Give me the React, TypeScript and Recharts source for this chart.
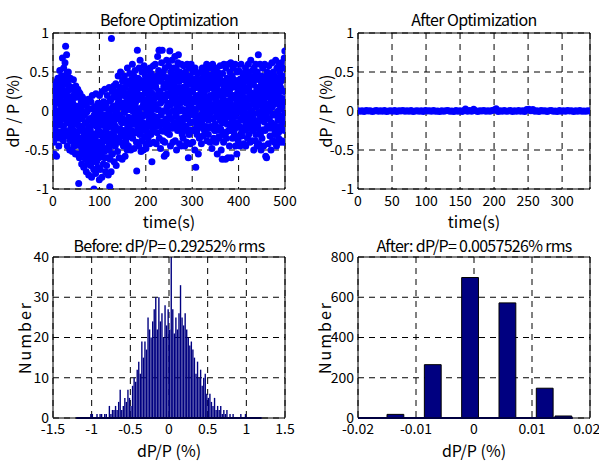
import { ScatterChart, Scatter, ComposedChart, Bar, XAxis, YAxis, CartesianGrid, ReferenceLine } from "recharts";

const font = "'Noto Sans CJK JP', 'DejaVu Sans Condensed', sans-serif";
const dotColor = "#0000ff";
const barColor = "#000080";

const timeTicksBefore = [0, 100, 200, 300, 400, 500];
const timeTicksAfter = [0, 50, 100, 150, 200, 250, 300];
const dpTicks = [-1, -0.5, 0, 0.5, 1];
const dpHistTicks = [-1.5, -1, -0.5, 0, 0.5, 1, 1.5];
const countTicksBefore = [0, 10, 20, 30, 40];
const dpHistTicksAfter = [-0.02, -0.01, 0, 0.01, 0.02];
const countTicksAfter = [0, 200, 400, 600, 800];

// time (s), dP/P (%) — outer spread of the samples
const beforeSeries: [number, number][] = [
  [0.3,-0.12],[0.8,0.25],[1.5,-0.4],[2.1,0.05],[2.9,-0.55],[3.4,0.31],[4.2,-0.22],[4.8,0.12],[5.5,-0.3],[6.1,-0.05],[6.9,0.2],[7.6,-0.58],[8.3,0.38],[9.2,-0.15],
  [10.4,0.42],[11.0,-0.28],[11.7,0.1],[12.5,-0.45],[13.1,0.3],[13.8,-0.08],[14.6,0.52],[15.2,-0.35],[16.0,0.18],[16.7,-0.18],[17.5,0.0],[18.2,0.45],[18.9,-0.3],[19.6,0.25],
  [20.3,0.68],[20.9,-0.1],[21.6,0.35],[22.4,-0.38],[23.0,0.55],[23.7,0.12],[24.5,-0.25],[25.1,0.42],[25.9,0.62],[26.6,-0.02],[27.2,0.83],[27.9,0.22],[28.6,-0.32],[29.3,0.72],[29.7,0.48],
  [30.2,0.15],[30.9,-0.45],[31.6,0.38],[32.3,-0.15],[33.0,0.5],[33.8,0.05],[34.5,-0.3],[35.2,0.28],[36.0,-0.5],[36.7,-0.05],[37.4,0.42],[38.1,-0.22],[38.9,0.18],[39.6,-0.38],
  [40.3,0.3],[41.0,-0.2],[41.8,-0.52],[42.5,0.1],[43.2,-0.35],[44.0,0.4],[44.7,-0.08],[45.5,-0.45],[46.2,0.22],[46.9,-0.28],[47.6,0.02],[48.4,-0.55],[49.1,0.32],[49.8,-0.15],
  [50.4,-0.3],[51.1,0.18],[51.8,-0.55],[52.6,-0.1],[53.3,0.28],[54.0,-0.42],[54.8,-0.18],[55.4,-0.93],[56.1,0.05],[56.9,-0.6],[57.6,-0.25],[58.3,0.22],[59.0,-0.38],[59.7,-0.02],
  [60.3,-0.45],[61.0,0.12],[61.8,-0.68],[62.5,-0.2],[63.2,0.18],[64.0,-0.35],[64.7,-0.55],[65.4,-0.05],[66.2,-0.72],[66.9,-0.28],[67.7,0.08],[68.4,-0.48],[69.1,-0.15],[69.8,-0.62],
  [70.4,-0.4],[71.1,0.1],[71.8,-0.78],[72.6,-0.25],[73.3,-0.55],[74.0,0.0],[74.8,-0.68],[75.5,-0.35],[76.2,0.15],[77.0,-0.82],[77.7,-0.12],[78.4,-0.6],[79.1,-0.3],[79.8,-0.5],
  [80.3,-0.2],[81.0,-0.7],[81.7,0.12],[82.5,-0.45],[83.2,-0.85],[84.0,-0.3],[84.7,0.2],[85.4,-0.62],[86.2,-0.08],[86.9,-0.5],[87.7,-0.75],[88.3,-1.0],[89.0,-0.35],[89.7,0.05],
  [90.4,-0.55],[91.1,-0.15],[91.8,-0.8],[92.6,0.22],[93.3,-0.4],[94.0,-0.65],[94.8,-0.02],[95.5,-0.28],[96.2,-0.72],[97.0,0.1],[97.7,-0.48],[98.4,-0.2],[99.1,-0.6],[99.8,-0.88],
  [100.3,0.2],[101.0,-0.42],[101.7,-0.75],[102.5,-0.1],[103.2,-0.58],[104.0,0.05],[104.7,-0.3],[105.4,-0.85],[106.2,0.25],[106.9,-0.5],[107.7,-0.18],[108.4,-0.68],[109.1,0.12],[109.8,-0.35],
  [110.4,-0.05],[111.1,-0.6],[111.8,0.28],[112.6,-0.38],[113.3,-0.78],[114.0,0.1],[114.8,-0.25],[115.5,-0.7],[116.2,-0.12],[117.0,0.2],[117.7,-0.5],[118.4,-0.3],[119.1,-0.82],[119.8,0.02],
  [120.3,-0.45],[121.0,0.3],[121.7,-0.2],[122.3,-0.97],[123.0,-0.62],[123.8,0.15],[124.5,-0.35],[125.2,-0.78],[126.0,0.93],[126.7,-0.08],[127.4,0.25],[128.1,-0.55],[128.9,-0.15],[129.6,0.05],
  [130.3,-0.3],[131.0,0.32],[131.7,-0.65],[132.5,-0.1],[133.2,0.18],[134.0,-0.45],[134.7,-0.2],[135.4,0.35],[136.2,-0.7],[136.9,0.0],[137.7,-0.38],[138.4,0.22],[139.1,-0.52],[139.8,0.1],
  [140.4,0.45],[141.1,-0.25],[141.8,0.15],[142.6,-0.6],[143.3,0.3],[144.0,-0.05],[144.8,-0.4],[145.5,0.5],[146.2,0.05],[147.0,-0.3],[147.7,0.25],[148.4,-0.15],[149.1,-0.62],[149.8,0.38],
  [150.3,-0.1],[151.0,0.4],[151.7,-0.45],[152.5,0.2],[153.2,-0.25],[154.0,0.45],[154.7,0.0],[155.4,-0.58],[156.2,0.3],[156.9,-0.35],[157.7,0.1],[158.4,-0.15],[159.1,0.35],[159.8,-0.5],
  [160.4,0.55],[161.1,-0.2],[161.8,0.18],[162.6,-0.45],[163.3,0.38],[164.0,0.02],[164.8,-0.3],[165.5,0.48],[166.2,-0.1],[167.0,0.25],[167.7,-0.5],[168.4,0.1],[169.1,0.4],[169.8,-0.25],
  [170.3,0.05],[171.0,0.6],[171.7,-0.35],[172.5,0.3],[173.2,-0.12],[174.0,0.45],[174.7,-0.48],[175.4,0.18],[176.2,-0.05],[176.9,0.52],[177.7,-0.28],[178.4,0.12],[179.1,0.35],[179.8,-0.4],
  [180.4,-0.77],[181.1,0.25],[181.8,0.78],[182.6,-0.2],[183.3,0.42],[184.0,0.0],[184.8,-0.45],[185.5,0.55],[186.2,0.15],[187.0,-0.3],[187.7,0.65],[188.4,-0.08],[189.1,0.3],[189.8,-0.52],
  [190.3,0.2],[191.0,-0.38],[191.7,0.5],[192.5,0.05],[193.2,-0.15],[194.0,0.38],[194.7,-0.5],[195.4,0.1],[196.2,0.58],[196.9,-0.25],[197.7,0.28],[198.4,-0.05],[199.1,0.45],[199.8,-0.42],
  [200.4,-0.48],[201.1,0.35],[201.8,0.0],[202.6,0.52],[203.3,-0.2],[204.0,0.15],[204.8,-0.35],[205.5,0.42],[206.2,0.08],[207.0,-0.12],[207.7,0.28],[208.4,-0.42],[209.1,0.55],[209.8,-0.02],
  [210.3,0.22],[211.0,-0.3],[211.7,0.48],[212.5,-0.05],[213.2,-0.65],[214.0,0.35],[214.7,0.1],[215.4,-0.22],[216.2,0.58],[216.9,-0.4],[217.7,0.15],[218.4,0.42],[219.1,-0.15],[219.8,0.05],
  [220.4,0.6],[221.1,-0.1],[221.8,0.3],[222.6,-0.42],[223.3,0.45],[224.0,0.02],[224.8,-0.28],[225.5,0.7],[226.2,0.18],[227.0,-0.15],[227.7,0.52],[228.4,0.78],[229.1,-0.35],[229.8,0.25],
  [230.3,0.78],[231.0,0.1],[231.7,-0.48],[232.5,0.4],[233.2,-0.05],[234.0,0.62],[234.7,-0.25],[235.4,0.78],[236.2,0.2],[236.9,-0.38],[237.7,0.5],[238.4,0.0],[239.1,0.32],[239.8,-0.58],
  [240.4,0.15],[241.1,-0.4],[241.8,0.55],[242.6,-0.12],[243.3,0.35],[244.0,-0.55],[244.8,0.65],[245.5,0.05],[246.2,-0.28],[247.0,0.42],[247.7,0.2],[248.4,-0.18],[249.1,0.58],[249.8,-0.02],
  [250.3,0.3],[251.0,-0.3],[251.7,0.77],[252.5,0.08],[253.2,-0.45],[254.0,0.5],[254.7,-0.1],[255.4,0.25],[256.2,0.65],[256.9,-0.22],[257.7,0.4],[258.4,-0.4],[259.1,0.12],[259.8,0.55],
  [260.4,-0.15],[261.1,0.45],[261.8,0.0],[262.6,0.7],[263.3,-0.38],[264.0,0.28],[264.8,-0.05],[265.5,0.55],[266.2,-0.5],[267.0,0.15],[267.7,0.38],[268.4,-0.25],[269.1,0.62],[269.8,0.05],
  [270.3,0.72],[271.0,-0.2],[271.7,0.3],[272.5,-0.42],[273.2,0.5],[274.0,0.1],[274.7,-0.1],[275.4,0.4],[276.2,-0.45],[276.9,0.6],[277.7,0.2],[278.4,-0.3],[279.1,0.02],[279.8,0.45],
  [280.4,-0.35],[281.1,0.25],[281.8,0.58],[282.6,-0.08],[283.3,0.4],[284.0,-0.45],[284.8,0.12],[285.5,0.5],[286.2,-0.2],[287.0,0.3],[287.7,0.0],[288.4,-0.4],[289.1,0.6],[289.8,0.18],
  [290.3,-0.1],[291.0,0.45],[291.7,-0.6],[292.5,0.2],[293.2,-0.3],[294.0,0.55],[294.7,0.05],[295.4,-0.42],[296.2,0.35],[296.9,-0.15],[297.7,0.6],[298.4,0.1],[299.1,-0.25],[299.8,0.4],
  [300.4,0.25],[301.1,-0.4],[301.8,0.5],[302.6,-0.05],[303.3,0.35],[304.0,-0.25],[304.8,0.12],[305.5,-0.5],[306.2,0.55],[306.9,0.0],[307.7,-0.72],[308.4,0.3],[309.1,-0.15],[309.8,0.42],
  [310.3,-0.3],[311.0,0.15],[311.7,0.48],[312.5,-0.1],[313.2,-0.55],[314.0,0.3],[314.7,0.05],[315.4,-0.35],[316.2,0.4],[316.9,-0.2],[317.7,0.22],[318.4,0.5],[319.1,-0.05],[319.8,-0.42],
  [320.4,0.35],[321.1,-0.15],[321.8,0.55],[322.6,0.05],[323.3,-0.32],[324.0,0.25],[324.8,0.45],[325.5,-0.05],[326.2,0.18],[327.0,-0.25],[327.7,0.38],[328.4,0.0],[329.1,0.52],[329.8,-0.2],
  [330.4,0.1],[331.1,0.6],[331.8,-0.38],[332.6,0.28],[333.3,-0.1],[334.0,0.45],[334.8,-0.3],[335.5,0.15],[336.2,0.55],[336.9,-0.05],[337.7,0.35],[338.4,-0.4],[339.1,0.2],[339.8,0.58],
  [340.3,-0.2],[341.0,0.42],[341.7,0.02],[342.5,-0.48],[343.2,0.3],[344.0,0.6],[344.7,-0.1],[345.4,0.18],[346.2,-0.35],[346.9,0.5],[347.7,0.08],[348.4,-0.25],[349.1,0.38],[349.8,0.55],
  [350.4,0.15],[351.1,-0.4],[351.8,0.45],[352.6,-0.05],[353.3,0.28],[354.0,-0.55],[354.8,0.5],[355.5,0.0],[356.2,-0.22],[357.0,0.35],[357.7,0.1],[358.4,-0.35],[359.1,0.42],[359.8,-0.12],
  [360.3,0.58],[361.0,-0.25],[361.7,0.2],[362.5,-0.5],[363.2,0.38],[364.0,0.02],[364.7,-0.62],[365.4,0.48],[366.2,-0.15],[366.9,0.25],[367.7,-0.4],[368.4,0.6],[369.1,0.08],[369.8,-0.3],
  [370.4,0.3],[371.1,-0.1],[371.8,-0.62],[372.6,0.55],[373.3,0.12],[374.0,-0.35],[374.8,0.42],[375.5,-0.05],[376.2,0.22],[377.0,-0.6],[377.7,0.6],[378.4,0.0],[379.1,-0.25],[379.8,0.35],
  [380.3,-0.45],[381.0,0.5],[381.7,0.1],[382.5,-0.2],[383.2,0.62],[384.0,-0.6],[384.7,0.3],[385.4,-0.08],[386.2,0.45],[386.9,-0.35],[387.7,0.18],[388.4,0.55],[389.1,-0.15],[389.8,0.05],
  [390.4,0.4],[391.1,-0.3],[391.8,0.2],[392.6,0.6],[393.3,-0.45],[394.0,0.08],[394.8,0.35],[395.5,-0.15],[396.2,-0.55],[397.0,0.5],[397.7,0.0],[398.4,0.25],[399.1,-0.38],[399.8,0.15],
  [400.3,0.52],[401.0,-0.2],[401.7,0.05],[402.5,0.4],[403.2,-0.45],[404.0,0.22],[404.7,-0.1],[405.4,0.6],[406.2,0.12],[406.9,-0.32],[407.7,0.35],[408.4,-0.02],[409.1,0.48],[409.8,-0.25],
  [410.4,0.18],[411.1,-0.42],[411.8,0.45],[412.6,0.0],[413.3,0.3],[414.0,-0.2],[414.8,0.55],[415.5,-0.45],[416.2,0.1],[417.0,0.38],[417.7,-0.1],[418.4,0.25],[419.1,-0.35],[419.8,0.5],
  [420.3,0.05],[421.0,0.6],[421.7,-0.3],[422.5,0.3],[423.2,-0.05],[424.0,0.45],[424.7,-0.4],[425.4,0.15],[426.2,0.65],[426.9,-0.18],[427.7,0.35],[428.4,0.0],[429.1,-0.38],[429.8,0.52],
  [430.4,-0.25],[431.1,0.38],[431.8,0.1],[432.6,-0.5],[433.3,0.55],[434.0,0.2],[434.7,-0.12],[435.4,0.45],[436.2,-0.38],[436.9,0.6],[437.7,0.05],[438.4,-0.22],[439.1,0.3],[439.8,-0.45],
  [440.3,0.5],[441.0,-0.15],[441.7,0.25],[442.5,0.72],[443.2,-0.42],[444.0,0.1],[444.7,0.4],[445.4,-0.05],[446.2,0.6],[446.9,-0.3],[447.7,0.2],[448.4,-0.5],[449.1,0.45],[449.8,0.0],
  [450.4,-0.35],[451.1,0.3],[451.8,0.55],[452.6,-0.1],[453.3,0.15],[454.0,-0.45],[454.8,0.42],[455.5,0.0],[456.2,0.6],[456.9,-0.25],[457.7,0.25],[458.4,-0.58],[459.1,0.35],[459.8,0.08],
  [460.3,-0.6],[461.0,0.2],[461.7,0.5],[462.5,-0.2],[463.2,0.35],[464.0,-0.42],[464.7,0.05],[465.4,0.58],[466.2,-0.1],[466.9,0.28],[467.7,-0.32],[468.4,0.45],[469.1,0.12],[469.8,-0.5],
  [470.4,0.4],[471.1,-0.15],[471.8,0.62],[472.6,0.05],[473.3,-0.38],[474.0,0.3],[474.8,0.5],[475.5,-0.05],[476.2,0.2],[477.0,-0.4],[477.7,0.45],[478.4,0.1],[479.1,-0.25],[479.8,0.65],
  [480.3,-0.05],[481.0,0.35],[481.7,-0.45],[482.5,0.55],[483.2,0.15],[484.0,-0.25],[484.7,0.42],[485.4,0.0],[486.2,-0.35],[486.9,0.6],[487.7,0.25],[488.4,-0.12],[489.1,0.5],[489.8,-0.4],
  [490.4,0.3],[491.1,-0.2],[491.8,0.62],[492.6,0.05],[493.3,-0.38],[494.0,0.45],[494.7,0.15],[495.5,-0.1],[496.2,0.55],[496.9,-0.4],[497.7,0.25],[498.4,0.68],[499.1,-0.25],[499.7,0.77],
];

// time (s), dP/P (%) — dense core of the samples
const beforeCore: [number, number][] = [
  [0.6,0.05],[1.4,-0.28],[2.3,0.2],[3.1,-0.1],[4.0,0.33],[4.9,-0.2],[5.7,0.12],[6.6,-0.35],[7.4,0.0],[8.3,0.25],
  [10.2,-0.1],[11.1,0.35],[11.9,0.0],[12.8,0.23],[13.6,-0.27],[14.5,0.13],[15.3,-0.17],[16.2,0.41],[17.1,0.07],[18.9,-0.07],
  [20.9,0.32],[21.7,0.08],[22.6,-0.2],[23.4,0.2],[24.3,0.38],[25.1,-0.08],[26.0,0.45],[26.8,0.02],[27.7,0.25],[29.4,-0.15],
  [30.4,-0.3],[31.2,0.12],[32.1,0.26],[33.0,-0.12],[33.8,0.0],[34.7,0.32],[35.5,-0.26],[36.4,0.06],[37.2,-0.38],[39.0,0.18],
  [40.6,0.0],[41.4,-0.33],[42.3,0.15],[43.1,-0.15],[44.0,0.28],[44.9,-0.25],[45.7,0.07],[46.6,-0.4],[47.4,-0.05],[48.3,0.2],
  [50.2,-0.27],[51.1,0.18],[51.9,-0.17],[52.8,0.06],[53.6,-0.44],[54.5,-0.04],[55.3,-0.34],[56.2,0.24],[57.1,-0.1],[58.9,-0.24],
  [60.9,0.02],[61.7,-0.22],[62.6,-0.5],[63.4,-0.1],[64.3,0.08],[65.1,-0.38],[66.0,0.15],[66.8,-0.28],[67.7,-0.05],[69.4,-0.45],
  [70.4,-0.58],[71.2,-0.16],[72.1,-0.02],[73.0,-0.4],[73.8,-0.28],[74.7,0.04],[75.5,-0.54],[76.4,-0.22],[77.2,-0.66],[79.0,-0.1],
  [80.6,-0.25],[81.4,-0.58],[82.3,-0.1],[83.1,-0.4],[84.0,0.03],[84.9,-0.5],[85.7,-0.18],[86.6,-0.65],[87.4,-0.3],[88.8,-0.05],
  [90.2,-0.43],[91.1,0.02],[91.9,-0.33],[92.8,-0.1],[93.6,-0.6],[94.5,-0.2],[95.3,-0.5],[96.2,0.08],[97.1,-0.26],[98.9,-0.4],
  [100.9,-0.03],[101.7,-0.27],[102.6,-0.55],[103.4,-0.15],[104.3,0.03],[105.1,-0.43],[106.0,0.1],[106.8,-0.33],[107.7,-0.1],[109.4,-0.5],
  [110.4,-0.52],[111.2,-0.1],[112.1,0.04],[113.0,-0.34],[113.8,-0.22],[114.7,0.1],[115.5,-0.48],[116.4,-0.16],[117.2,-0.6],[119.0,-0.04],
  [120.6,-0.15],[121.4,-0.48],[122.3,0.0],[123.1,-0.3],[124.0,0.13],[124.9,-0.4],[125.7,-0.08],[126.6,-0.55],[127.4,-0.2],[128.3,0.05],
  [130.2,-0.27],[131.1,0.18],[131.9,-0.17],[132.8,0.06],[133.6,-0.44],[134.5,-0.04],[135.3,-0.34],[136.2,0.24],[137.1,-0.1],[138.9,-0.24],
  [140.9,0.17],[141.7,-0.07],[142.6,-0.35],[143.4,0.05],[144.3,0.23],[145.1,-0.23],[146.0,0.3],[146.8,-0.13],[147.7,0.1],[149.4,-0.3],
  [150.4,-0.32],[151.2,0.1],[152.1,0.24],[153.0,-0.14],[153.8,-0.02],[154.7,0.3],[155.5,-0.28],[156.4,0.04],[157.2,-0.4],[159.0,0.16],
  [160.6,0.07],[161.4,-0.26],[162.3,0.22],[163.1,-0.08],[164.0,0.35],[164.9,-0.18],[165.7,0.14],[166.6,-0.33],[167.4,0.02],[168.3,0.27],
  [170.2,-0.1],[171.1,0.35],[171.9,0.0],[172.8,0.23],[173.6,-0.27],[174.5,0.13],[175.3,-0.17],[176.2,0.41],[177.1,0.07],[178.9,-0.07],
  [180.9,0.27],[181.7,0.03],[182.6,-0.25],[183.4,0.15],[184.3,0.33],[185.1,-0.13],[186.0,0.4],[186.8,-0.03],[187.7,0.2],[189.4,-0.2],
  [190.4,-0.25],[191.2,0.17],[192.1,0.31],[193.0,-0.07],[193.8,0.05],[194.7,0.37],[195.5,-0.21],[196.4,0.11],[197.2,-0.33],[199.0,0.23],
  [200.6,0.1],[201.4,-0.23],[202.3,0.25],[203.1,-0.05],[204.0,0.38],[204.9,-0.15],[205.7,0.17],[206.6,-0.3],[207.4,0.05],[208.3,0.3],
  [210.2,-0.1],[211.1,0.35],[211.9,0.0],[212.8,0.23],[213.6,-0.27],[214.5,0.13],[215.3,-0.17],[216.2,0.41],[217.1,0.07],[218.9,-0.07],
  [220.9,0.32],[221.7,0.08],[222.6,-0.2],[223.4,0.2],[224.3,0.38],[225.1,-0.08],[226.0,0.45],[226.8,0.02],[227.7,0.25],[229.4,-0.15],
  [230.4,-0.18],[231.2,0.24],[232.1,0.38],[233.0,0.0],[233.8,0.12],[234.7,0.44],[235.5,-0.14],[236.4,0.18],[237.2,-0.26],[239.0,0.3],
  [240.6,0.15],[241.4,-0.18],[242.3,0.3],[243.1,0.0],[244.0,0.43],[244.9,-0.1],[245.7,0.22],[246.6,-0.25],[247.4,0.1],[248.3,0.35],
  [250.2,-0.03],[251.1,0.42],[251.9,0.07],[252.8,0.3],[253.6,-0.2],[254.5,0.2],[255.3,-0.1],[256.2,0.48],[257.1,0.14],[258.9,0.0],
  [260.9,0.34],[261.7,0.1],[262.6,-0.18],[263.4,0.22],[264.3,0.4],[265.1,-0.06],[266.0,0.47],[266.8,0.04],[267.7,0.27],[269.4,-0.13],
  [270.4,-0.18],[271.2,0.24],[272.1,0.38],[273.0,0.0],[273.8,0.12],[274.7,0.44],[275.5,-0.14],[276.4,0.18],[277.2,-0.26],[279.0,0.3],
  [280.6,0.15],[281.4,-0.18],[282.3,0.3],[283.1,0.0],[284.0,0.43],[284.9,-0.1],[285.7,0.22],[286.6,-0.25],[287.4,0.1],[288.3,0.35],
  [290.2,-0.07],[291.1,0.38],[291.9,0.03],[292.8,0.26],[293.6,-0.24],[294.5,0.16],[295.3,-0.14],[296.2,0.44],[297.1,0.1],[298.9,-0.04],
  [300.9,0.27],[301.7,0.03],[302.6,-0.25],[303.4,0.15],[304.3,0.33],[305.1,-0.13],[306.0,0.4],[306.8,-0.03],[307.7,0.2],[309.4,-0.2],
  [310.4,-0.25],[311.2,0.17],[312.1,0.31],[313.0,-0.07],[313.8,0.05],[314.7,0.37],[315.5,-0.21],[316.4,0.11],[317.2,-0.33],[319.0,0.23],
  [320.6,0.15],[321.4,-0.18],[322.3,0.3],[323.1,0.0],[324.0,0.43],[324.9,-0.1],[325.7,0.22],[326.6,-0.25],[327.4,0.1],[328.3,0.35],
  [330.2,-0.05],[331.1,0.4],[331.9,0.05],[332.8,0.28],[333.6,-0.22],[334.5,0.18],[335.3,-0.12],[336.2,0.46],[337.1,0.12],[338.9,-0.02],
  [340.9,0.3],[341.7,0.06],[342.6,-0.22],[343.4,0.18],[344.3,0.36],[345.1,-0.1],[346.0,0.43],[346.8,0.0],[347.7,0.23],[349.4,-0.17],
  [350.4,-0.25],[351.2,0.17],[352.1,0.31],[353.0,-0.07],[353.8,0.05],[354.7,0.37],[355.5,-0.21],[356.4,0.11],[357.2,-0.33],[359.0,0.23],
  [360.6,0.1],[361.4,-0.23],[362.3,0.25],[363.1,-0.05],[364.0,0.38],[364.9,-0.15],[365.7,0.17],[366.6,-0.3],[367.4,0.05],[368.3,0.3],
  [370.2,-0.1],[371.1,0.35],[371.9,0.0],[372.8,0.23],[373.6,-0.27],[374.5,0.13],[375.3,-0.17],[376.2,0.41],[377.1,0.07],[378.9,-0.07],
  [380.9,0.27],[381.7,0.03],[382.6,-0.25],[383.4,0.15],[384.3,0.33],[385.1,-0.13],[386.0,0.4],[386.8,-0.03],[387.7,0.2],[389.4,-0.2],
  [390.4,-0.25],[391.2,0.17],[392.1,0.31],[393.0,-0.07],[393.8,0.05],[394.7,0.37],[395.5,-0.21],[396.4,0.11],[397.2,-0.33],[399.0,0.23],
  [400.6,0.13],[401.4,-0.2],[402.3,0.28],[403.1,-0.02],[404.0,0.41],[404.9,-0.12],[405.7,0.2],[406.6,-0.27],[407.4,0.08],[408.3,0.33],
  [410.2,-0.07],[411.1,0.38],[411.9,0.03],[412.8,0.26],[413.6,-0.24],[414.5,0.16],[415.3,-0.14],[416.2,0.44],[417.1,0.1],[418.9,-0.04],
  [420.9,0.3],[421.7,0.06],[422.6,-0.22],[423.4,0.18],[424.3,0.36],[425.1,-0.1],[426.0,0.43],[426.8,0.0],[427.7,0.23],[429.4,-0.17],
  [430.4,-0.22],[431.2,0.2],[432.1,0.34],[433.0,-0.04],[433.8,0.08],[434.7,0.4],[435.5,-0.18],[436.4,0.14],[437.2,-0.3],[439.0,0.26],
  [440.6,0.13],[441.4,-0.2],[442.3,0.28],[443.1,-0.02],[444.0,0.41],[444.9,-0.12],[445.7,0.2],[446.6,-0.27],[447.4,0.08],[448.3,0.33],
  [450.2,-0.07],[451.1,0.38],[451.9,0.03],[452.8,0.26],[453.6,-0.24],[454.5,0.16],[455.3,-0.14],[456.2,0.44],[457.1,0.1],[458.9,-0.04],
  [460.9,0.3],[461.7,0.06],[462.6,-0.22],[463.4,0.18],[464.3,0.36],[465.1,-0.1],[466.0,0.43],[466.8,0.0],[467.7,0.23],[469.4,-0.17],
  [470.4,-0.22],[471.2,0.2],[472.1,0.34],[473.0,-0.04],[473.8,0.08],[474.7,0.4],[475.5,-0.18],[476.4,0.14],[477.2,-0.3],[479.0,0.26],
  [480.6,0.13],[481.4,-0.2],[482.3,0.28],[483.1,-0.02],[484.0,0.41],[484.9,-0.12],[485.7,0.2],[486.6,-0.27],[487.4,0.08],[488.3,0.33],
  [490.2,-0.07],[491.1,0.38],[491.9,0.03],[492.8,0.26],[493.6,-0.24],[494.5,0.16],[495.3,-0.14],[496.2,0.44],[497.1,0.1],[498.9,-0.04],
];

const afterSeries: [number, number][] = [
  [0,0.004],[3,-0.003],[6,0.002],[9,-0.005],[12,0.006],[15,-0.001],[18,0.003],[21,-0.006],[24,0.001],[27,0.005],[30,-0.004],[33,0.002],[36,-0.002],[39,0.007],
  [42,-0.005],[45,0.001],[48,0.004],[51,-0.003],[54,0.006],[57,-0.006],[60,0.002],[63,-0.001],[66,0.005],[69,-0.004],[72,0.003],[75,-0.002],[78,0.006],[81,-0.005],
  [84,0.001],[87,0.004],[90,-0.003],[93,0.002],[96,-0.006],[99,0.005],[102,-0.001],[105,0.003],[108,-0.004],[111,0.006],[114,-0.002],[117,0.001],[120,-0.005],[123,0.004],
  [126,-0.003],[129,0.002],[132,0.006],[135,-0.004],[138,0.001],[141,-0.006],[144,0.005],[147,-0.002],[150,0.003],[153,-0.005],[156,0.008],[158,0.025],[161,-0.003],[164,0.006],
  [167,-0.004],[170,0.022],[173,0.002],[176,-0.006],[179,0.004],[182,-0.001],[185,0.005],[188,-0.004],[191,0.003],[194,-0.002],[197,0.006],[200,0.012],[203,0.03],[206,-0.005],
  [209,0.004],[212,-0.002],[215,0.006],[218,-0.004],[221,0.001],[224,0.005],[227,-0.006],[230,0.003],[233,-0.002],[236,0.006],[239,-0.003],[242,0.002],[245,-0.005],[248,0.018],
  [251,0.024],[254,0.004],[257,0.02],[260,-0.004],[263,0.003],[266,-0.006],[269,0.005],[272,-0.001],[275,0.004],[278,-0.005],[281,0.002],[284,0.006],[287,-0.003],[290,0.001],
  [293,-0.006],[296,0.005],[299,-0.002],[302,0.003],[305,-0.004],[308,0.006],[311,-0.001],[314,0.002],[317,-0.005],[320,0.004],[323,-0.003],[326,0.006],[329,-0.002],[332,0.001],
  [335,-0.004],[338,0.003],[341,0.001],
];

const histBeforeCenters = [
  -1.19,-1.17,-1.15,-1.13,-1.11,-1.09,-1.07,-1.05,-1.03,-1.01,
  -0.99,-0.97,-0.95,-0.93,-0.91,-0.89,-0.87,-0.85,-0.83,-0.81,
  -0.79,-0.77,-0.75,-0.73,-0.71,-0.69,-0.67,-0.65,-0.63,-0.61,
  -0.59,-0.57,-0.55,-0.53,-0.51,-0.49,-0.47,-0.45,-0.43,-0.41,
  -0.39,-0.37,-0.35,-0.33,-0.31,-0.29,-0.27,-0.25,-0.23,-0.21,
  -0.19,-0.17,-0.15,-0.13,-0.11,-0.09,-0.07,-0.05,-0.03,-0.01,
  0.01,0.03,0.05,0.07,0.09,0.11,0.13,0.15,0.17,0.19,
  0.21,0.23,0.25,0.27,0.29,0.31,0.33,0.35,0.37,0.39,
  0.41,0.43,0.45,0.47,0.49,0.51,0.53,0.55,0.57,0.59,
  0.61,0.63,0.65,0.67,0.69,0.71,0.73,0.75,0.77,0.79,
  0.81,0.83,0.85,0.87,0.89,0.91,0.93,0.95,0.97,0.99,
  1.01,1.03,1.05,1.07,1.09,1.11,1.13,1.15,1.17,1.19,
];
const histBeforeCounts = [
  0,0,0,0,0,0,0,0,0,1,
  1,0,0,1,0,1,1,0,1,1,
  0,3,1,2,2,3,2,4,7,2,
  3,5,4,7,5,3,8,10,9,12,
  14,11,19,15,19,17,25,22,20,24,
  27,30,22,30,24,26,20,28,23,27,
  22,40,27,21,25,22,26,33,25,23,
  26,22,20,18,19,17,15,11,14,10,
  12,8,10,11,6,5,6,4,3,5,
  2,3,2,3,1,2,1,2,0,1,
  0,1,0,0,0,0,1,0,0,1,
  0,0,0,0,0,0,0,0,0,0,
];

const histAfterCenters = [-0.01356, -0.00712, -0.00069, 0.00575, 0.01218, 0.0154];
const histAfterCounts = [18, 265, 698, 572, 148, 10];

const tickStyle = { fill: "#000", fontSize: 14, fontFamily: font };
const labelStyle = { fill: "#000", fontSize: 16, fontFamily: font };
const gridProps = { stroke: "#000", strokeDasharray: "6 5", strokeWidth: 1 };
const axisLine = { stroke: "#000", strokeWidth: 1 };

const dot = (p: any) => <circle cx={p.cx} cy={p.cy} r={3.5} fill={dotColor} />;

function Title({ text, left, top, width, spacing }: { text: string; left: number; top: number; width: number; spacing: number }) {
  return (
    <div style={{ position: "absolute", left, top, width, textAlign: "center", fontFamily: font, fontSize: 16, lineHeight: "18px", color: "#000", whiteSpace: "nowrap", letterSpacing: spacing }}>
      {text}
    </div>
  );
}

function TimePanel({ series, ticks, xMax, yAxisWidth, right, yLabelOffset }: { series: [number, number][][]; ticks: number[]; xMax: number; yAxisWidth: number; right: number; yLabelOffset: number }) {
  return (
    <ScatterChart width={yAxisWidth + 232 + right} height={234} margin={{ top: 33, right, left: 0, bottom: 0 }}>
      <CartesianGrid {...gridProps} />
      <XAxis dataKey="t" type="number" domain={[0, xMax]} ticks={ticks} allowDataOverflow height={45} tick={tickStyle} tickLine={false} tickSize={1} tickMargin={6} axisLine={axisLine}
        label={{ value: "time(s)", position: "insideBottom", offset: 6, style: labelStyle }} />
      <YAxis dataKey="v" type="number" domain={[-1, 1]} ticks={dpTicks} allowDataOverflow width={yAxisWidth} tick={tickStyle} tickLine={false} tickSize={0} tickMargin={4} axisLine={axisLine}
        label={{ value: "dP / P (%)", angle: -90, position: "insideLeft", offset: yLabelOffset, style: { ...labelStyle, textAnchor: "middle" } }} />
      <ReferenceLine x={xMax} stroke="#000" />
      <ReferenceLine y={1} stroke="#000" />
      {series.map((s, i) => (
        <Scatter key={i} data={s.map(([t, v]) => ({ t, v }))} fill={dotColor} shape={dot} isAnimationActive={false} />
      ))}
    </ScatterChart>
  );
}

export default function App() {
  const histBefore = histBeforeCenters.map((x, i) => ({ x, n: histBeforeCounts[i] }));
  const histAfter = histAfterCenters.map((x, i) => ({ x, n: histAfterCounts[i] }));
  return (
    <div style={{ position: "absolute", left: 0, top: 0, width: 599, height: 462, background: "#fff", overflow: "hidden" }}>
      <Title text="Before Optimization" left={53} top={10} width={232} spacing={-0.6} />
      <Title text="After Optimization" left={358} top={10} width={232} spacing={-0.6} />
      <Title text="Before: dP/P= 0.29252% rms" left={53} top={236} width={232} spacing={-0.7} />
      <Title text="After: dP/P= 0.0057526% rms" left={358} top={236} width={232} spacing={-0.7} />

      <div style={{ position: "absolute", left: 0, top: 0 }}>
        <TimePanel series={[beforeSeries, beforeCore]} ticks={timeTicksBefore} xMax={500} yAxisWidth={53} right={15} yLabelOffset={13} />
      </div>
      <div style={{ position: "absolute", left: 300, top: 0 }}>
        <TimePanel series={[afterSeries]} ticks={timeTicksAfter} xMax={341} yAxisWidth={58} right={9} yLabelOffset={26} />
      </div>

      <div style={{ position: "absolute", left: 0, top: 230 }}>
        <ComposedChart width={300} height={238} data={histBefore} margin={{ top: 27, right: 15, left: 0, bottom: 0 }}>
          <CartesianGrid {...gridProps} />
          <XAxis dataKey="x" type="number" domain={[-1.5, 1.5]} ticks={dpHistTicks} allowDataOverflow height={50} tick={tickStyle} tickLine={false} tickSize={1} tickMargin={5} axisLine={axisLine}
            label={{ value: "dP/P (%)", position: "insideBottom", offset: 11, style: labelStyle }} />
          <YAxis type="number" domain={[0, 40]} ticks={countTicksBefore} allowDataOverflow width={53} tick={tickStyle} tickLine={false} tickSize={0} tickMargin={4} axisLine={axisLine}
            label={{ value: "Number", angle: -90, position: "insideLeft", offset: 25, style: { ...labelStyle, textAnchor: "middle", letterSpacing: 2 } }} />
          <ReferenceLine x={1.5} stroke="#000" />
          <ReferenceLine y={40} stroke="#000" />
          <Bar dataKey="n" fill={barColor} barSize={3} isAnimationActive={false} />
          <ReferenceLine segment={[{ x: -1.2, y: 0 }, { x: 1.2, y: 0 }]} stroke={barColor} strokeWidth={2} />
        </ComposedChart>
      </div>

      <div style={{ position: "absolute", left: 300, top: 230 }}>
        <ComposedChart width={299} height={238} data={histAfter} margin={{ top: 27, right: 9, left: 0, bottom: 0 }}>
          <CartesianGrid {...gridProps} />
          <XAxis dataKey="x" type="number" domain={[-0.02, 0.02]} ticks={dpHistTicksAfter} allowDataOverflow height={50} tick={tickStyle} tickLine={false} tickSize={1} tickMargin={5} axisLine={axisLine}
            label={{ value: "dP/P (%)", position: "insideBottom", offset: 11, style: labelStyle }} />
          <YAxis type="number" domain={[0, 800]} ticks={countTicksAfter} allowDataOverflow width={58} tick={tickStyle} tickLine={false} tickSize={0} tickMargin={4} axisLine={axisLine}
            label={{ value: "Number", angle: -90, position: "insideLeft", offset: 25, style: { ...labelStyle, textAnchor: "middle", letterSpacing: 2 } }} />
          <ReferenceLine x={0.02} stroke="#000" />
          <ReferenceLine y={800} stroke="#000" />
          <Bar dataKey="n" fill={barColor} stroke="#000" strokeWidth={1} barSize={19} isAnimationActive={false} />
          <ReferenceLine segment={[{ x: -0.02, y: 0 }, { x: 0.017, y: 0 }]} stroke={barColor} strokeWidth={2} />
        </ComposedChart>
      </div>
    </div>
  );
}
